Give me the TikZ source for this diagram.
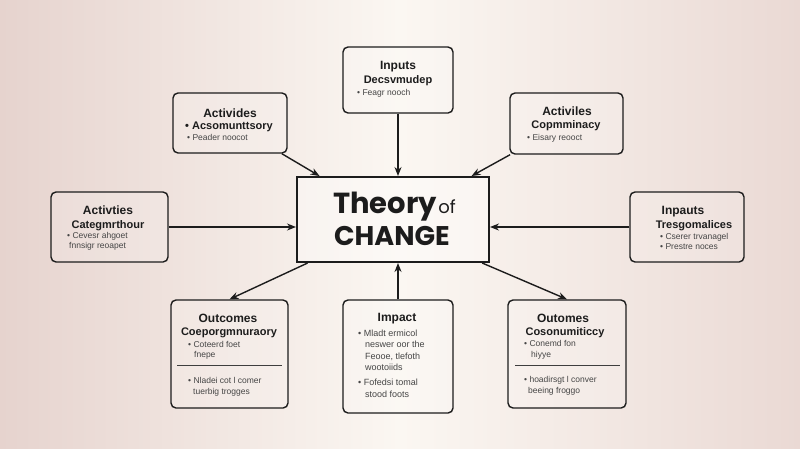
\documentclass[tikz,border=0pt]{standalone}
\usepackage{fontspec}
\setmainfont{Liberation Sans}
\newfontfamily\pop{Poppins}
\usetikzlibrary{arrows.meta}
\definecolor{ink}{HTML}{1C1C1C}
\definecolor{sub}{HTML}{454545}
\definecolor{bgmid}{HTML}{FBF7F2}
\definecolor{bgleft}{HTML}{E6D3CE}
\definecolor{bgright}{HTML}{EAD9D4}
\tikzset{
  card/.style={draw=ink, line width=1.4pt, rounded corners=5pt, fill=white, fill opacity=0.15, text opacity=1, inner sep=0pt},
  hub/.style={draw=ink, line width=2pt, fill=white, fill opacity=0.35, inner sep=0pt, minimum width=192pt, minimum height=85pt},
  ttl/.style={font=\bfseries\fontsize{12}{14}\selectfont, text=ink, inner sep=0pt, anchor=base},
  ttlb/.style={font=\bfseries\fontsize{11}{13}\selectfont, text=ink, inner sep=0pt, anchor=base},
  bul/.style={font=\fontsize{8.5}{10}\selectfont, text=sub, inner sep=0pt, anchor=base west},
  bulb/.style={font=\fontsize{9}{11}\selectfont, text=sub, inner sep=0pt, anchor=base west},
  conn/.style={draw=ink, line width=1.4pt, -{Stealth[length=9pt,width=7pt]}},
  divider/.style={draw=ink!85, line width=1pt}
}
\begin{document}
\begin{tikzpicture}[x=1pt,y=-1pt]
\useasboundingbox (0,0) rectangle (800,448);
\shade[left color=bgleft, right color=bgright, middle color=bgmid] (0,0) rectangle (800,448);

% central hub
\node[hub] (c) at (393,219.5) {};
\node[font=\pop\bfseries\fontsize{29}{31}\selectfont, text=ink, inner sep=0pt, anchor=base west] (th) at (333,213) {Theory};
\node[font=\pop\fontsize{18}{20}\selectfont, text=ink, inner sep=0pt, anchor=base west] (of) at ([xshift=1pt]th.base east) {of};
\node[font=\pop\bfseries\fontsize{27}{29}\selectfont, text=ink, inner sep=0pt, anchor=base] (ch) at (392,245) {CHANGE};

% cards
\node[card, minimum width=114pt, minimum height=60pt] (tl) at (230,123) {};
\node[card, minimum width=110pt, minimum height=66pt] (tc) at (398,80) {};
\node[card, minimum width=113pt, minimum height=61pt] (tr) at (566.5,123.5) {};
\node[card, minimum width=117pt, minimum height=70pt] (l) at (109.5,227) {};
\node[card, minimum width=114pt, minimum height=70pt] (r) at (687,227) {};
\node[card, minimum width=117pt, minimum height=108pt] (bl) at (229.5,354) {};
\node[card, minimum width=110pt, minimum height=113pt] (bc) at (398,356.5) {};
\node[card, minimum width=118pt, minimum height=108pt] (br) at (567,354) {};

% top-left text
\node[ttl] (tl1) at (230,117) {Activides};
\node[ttlb] (tl2) at (229,129) {• Acsomunttsory};
\node[bul] (tl3) at (187,140) {• Peader noocot};

% top-centre text
\node[ttl] (tc1) at (398,69) {Inputs};
\node[ttlb] (tc2) at (398,83) {Decsvmudep};
\node[bul] (tc3) at (357,95) {• Feagr nooch};

% top-right text
\node[ttl] (tr1) at (567,115) {Activiles};
\node[ttlb] (tr2) at (566,128) {Copmminacy};
\node[bul] (tr3) at (527,140) {• Eisary reooct};

% left text
\node[ttl] (l1) at (108,214) {Activties};
\node[ttlb] (l2) at (108,228) {Categmrthour};
\node[bul] (l3) at (67,238) {• Cevesr ahgoet};
\node[bul] (l4) at (69,248) {fnnsigr reoapet};

% right text
\node[ttl] (r1) at (683,214) {Inpauts};
\node[ttlb] (r2) at (694,228) {Tresgomalices};
\node[bul] (r3) at (660,239) {• Cserer trvanagel};
\node[bul] (r4) at (660,249) {• Prestre noces};

% bottom-left text
\node[ttl] (bl1) at (228,322) {Outcomes};
\node[ttlb] (bl2) at (229,335) {Coeporgmnuraory};
\node[bul] (bl3) at (188,347) {• Coteerd foet};
\node[bul] (bl4) at (194,357) {fnepe};
\coordinate (bld1) at (177,365);
\coordinate (bld2) at (282,365);
\draw[divider] (bld1) -- (bld2);
\node[bul] (bl5) at (188,383) {• Nladei cot l comer};
\node[bul] (bl6) at (193,394) {tuerbig trogges};

% bottom-centre text
\node[ttl] (bc1) at (397,321) {Impact};
\node[bulb] (bc2) at (358,336) {• Mladt ermicol};
\node[bulb] (bc3) at (365,347) {neswer oor the};
\node[bulb] (bc4) at (365,359) {Feooe, tlefoth};
\node[bulb] (bc5) at (365,370) {wootoiids};
\node[bulb] (bc6) at (358,385) {• Fofedsi tomal};
\node[bulb] (bc7) at (365,397) {stood foots};

% bottom-right text
\node[ttl] (br1) at (563,322) {Outomes};
\node[ttlb] (br2) at (565,335) {Cosonumiticcy};
\node[bul] (br3) at (524,346) {• Conemd fon};
\node[bul] (br4) at (531,357) {hiyye};
\coordinate (brd1) at (515,365);
\coordinate (brd2) at (620,365);
\draw[divider] (brd1) -- (brd2);
\node[bul] (br5) at (524,382) {• hoadirsgt l conver};
\node[bul] (br6) at (528,393) {beeing froggo};

% connectors
\draw[conn] (tl) -- (c);
\draw[conn] (tr) -- (c);
\draw[conn] (tc.south) -- (tc.south |- c.north);
\draw[conn] (l.east) -- (l.east -| c.west);
\draw[conn] (r.west) -- (r.west -| c.east);
\draw[conn] (c.-153) -- (bl.north);
\draw[conn] (c.-26) -- (br.north);
\draw[conn] (bc.north) -- (bc.north |- c.south);
\end{tikzpicture}
\end{document}
